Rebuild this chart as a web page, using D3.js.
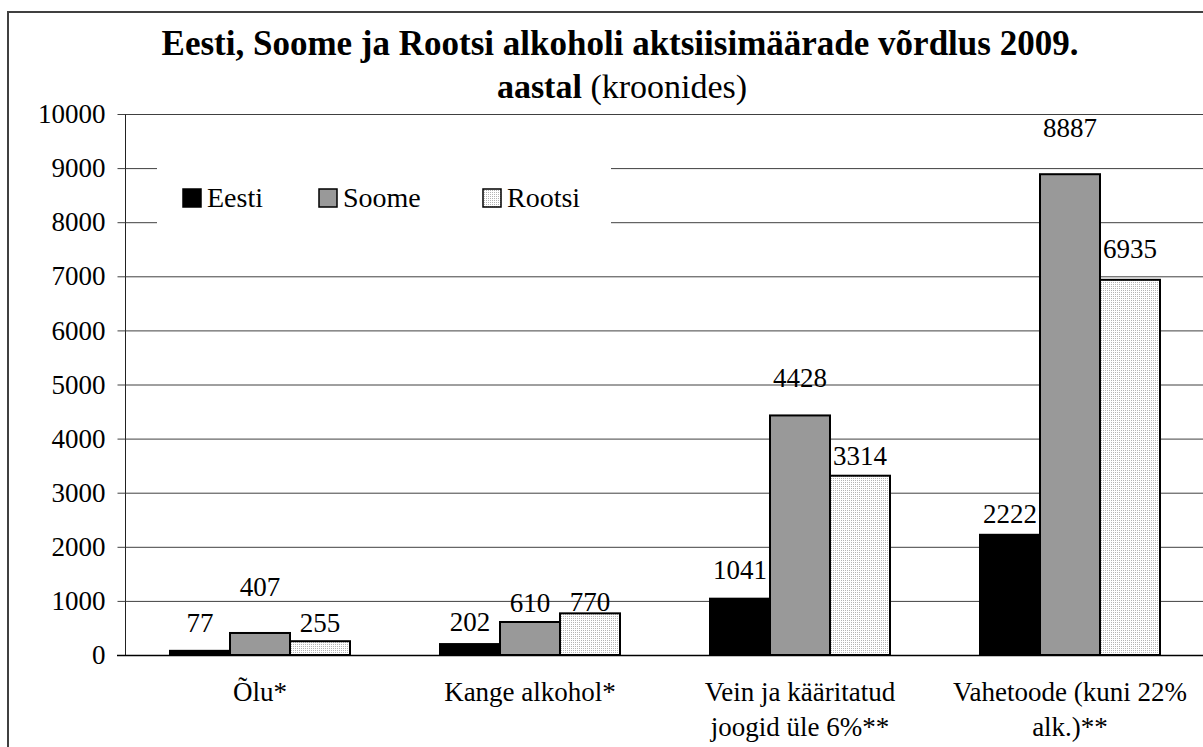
<!DOCTYPE html>
<html>
<head>
<meta charset="utf-8">
<script src="https://cdn.jsdelivr.net/npm/d3@7"></script>
<style>
  body { margin: 0; background: #fff; }
  svg { display: block; }
  svg text { font-family: "Liberation Serif", "Times New Roman", Times, "DejaVu Serif", serif; }
</style>
</head>
<body>
<svg id="chart" width="1203" height="747"></svg>
<script>
// categories and series
var categories = ["Õlu*", "Kange alkohol*", "Vein ja kääritatud joogid üle 6%**", "Vahetoode (kuni 22% alk.)**"];
var categoryLines = [["Õlu*"], ["Kange alkohol*"], ["Vein ja kääritatud", "joogid üle 6%**"], ["Vahetoode (kuni 22%", "alk.)**"]];
var seriesNames = ["Eesti", "Soome", "Rootsi"];
var eesti = [77, 202, 1041, 2222];
var soome = [407, 610, 4428, 8887];
var rootsi = [255, 770, 3314, 6935];
var yTicks = [0, 1000, 2000, 3000, 4000, 5000, 6000, 7000, 8000, 9000, 10000];

// value labels sit at uneven heights above the bars in the original (px above bar top)
var liftEesti = [19, 13, 20, 12];
var liftSoome = [37, 10, 28, 37];
var liftRootsi = [9, 2, 11, 22];

var svg = d3.select("#chart"),
    width = +svg.attr("width"),
    height = +svg.attr("height");

var margin = {left: 125, top: 114, right: -2, bottom: 92};
var plotBottom = height - margin.bottom;

// stipple for Rootsi
var defs = svg.append("defs");
var pat = defs.append("pattern")
    .attr("id", "stipple")
    .attr("patternUnits", "userSpaceOnUse")
    .attr("width", 2).attr("height", 2);
pat.append("rect").attr("width", 2).attr("height", 2).attr("fill", "#fff");
pat.append("rect").attr("width", 1).attr("height", 1).attr("fill", "#b4b4b4");

var fills = {"Eesti": "#000", "Soome": "#999999", "Rootsi": "url(#stipple)"};

var table = categories.map(function (c, i) {
    return {cat: c, values: [
        {s: "Eesti", v: eesti[i], lift: liftEesti[i]},
        {s: "Soome", v: soome[i], lift: liftSoome[i]},
        {s: "Rootsi", v: rootsi[i], lift: liftRootsi[i]}
    ]};
});

var x0 = d3.scaleBand().domain(categories).range([margin.left, width - margin.right]);
var bw = x0.bandwidth();
var x1 = d3.scaleBand().domain(seriesNames).range([bw / 6, bw * 5 / 6]);
var y = d3.scaleLinear().domain([0, 10000]).range([plotBottom, margin.top]);

// outer frame
svg.append("rect")
    .attr("x", 8).attr("y", 12)
    .attr("width", width).attr("height", height)
    .attr("fill", "none")
    .attr("stroke", "#404040")
    .attr("stroke-width", 2);

// title
var title = svg.append("g").attr("text-anchor", "middle");
title.append("text")
    .attr("x", 620).attr("y", 55)
    .attr("font-size", 35).attr("font-weight", "bold")
    .text("Eesti, Soome ja Rootsi alkoholi aktsiisimäärade võrdlus 2009.");
var t2 = title.append("text")
    .attr("x", 622).attr("y", 98)
    .attr("font-size", 34);
t2.append("tspan").attr("font-weight", "bold").text("aastal");
t2.append("tspan").text(" (kroonides)");

// grid
svg.append("g")
    .selectAll("line")
    .data(yTicks.filter(function (d) { return d > 0; }))
    .enter().append("line")
    .attr("x1", margin.left).attr("x2", width)
    .attr("y1", function (d) { return y(d) + 0.5; })
    .attr("y2", function (d) { return y(d) + 0.5; })
    .attr("stroke", "#404040").attr("stroke-width", 1);

// y axis
var yAxis = svg.append("g")
    .attr("transform", "translate(" + (margin.left + 0.5) + ",0)")
    .call(d3.axisLeft(y).tickValues(yTicks).tickSize(8).tickPadding(12).tickFormat(d3.format("d")));
yAxis.select(".domain").attr("stroke", "#222").attr("d", "M0," + margin.top + "V" + plotBottom);
yAxis.selectAll(".tick line").attr("stroke", "#404040");
yAxis.selectAll(".tick text")
    .attr("font-size", 27).attr("fill", "#000");

// legend box (covers grid)
var legend = svg.append("g");
legend.append("rect")
    .attr("x", 157).attr("y", 156)
    .attr("width", 454).attr("height", 80)
    .attr("fill", "#fff");
var legendX = [183, 319, 483];
seriesNames.forEach(function (s, i) {
    legend.append("rect")
        .attr("x", legendX[i]).attr("y", 189)
        .attr("width", 18).attr("height", 18)
        .attr("fill", fills[s]).attr("stroke", "#000").attr("stroke-width", 1.5);
    legend.append("text")
        .attr("x", legendX[i] + 24).attr("y", 207)
        .attr("font-size", 28)
        .text(s);
});

// bars
var groups = svg.append("g")
    .selectAll("g")
    .data(table)
    .enter().append("g")
    .attr("transform", function (d) { return "translate(" + x0(d.cat) + ",0)"; });

groups.selectAll("rect")
    .data(function (d) { return d.values; })
    .enter().append("rect")
    .attr("x", function (d) { return x1(d.s); })
    .attr("y", function (d) { return y(d.v); })
    .attr("width", x1.bandwidth())
    .attr("height", function (d) { return y(0) - y(d.v); })
    .attr("fill", function (d) { return fills[d.s]; })
    .attr("stroke", "#000")
    .attr("stroke-width", 2);

groups.selectAll("text.val")
    .data(function (d) { return d.values; })
    .enter().append("text")
    .attr("class", "val")
    .attr("x", function (d) { return x1(d.s) + x1.bandwidth() / 2; })
    .attr("y", function (d) { return y(d.v) - d.lift; })
    .attr("text-anchor", "middle")
    .attr("font-size", 27)
    .text(function (d) { return d.v; });

// x axis line
svg.append("line")
    .attr("x1", margin.left - 8).attr("x2", width)
    .attr("y1", plotBottom + 0.5).attr("y2", plotBottom + 0.5)
    .attr("stroke", "#000").attr("stroke-width", 1.5);

// category labels
var catLab = svg.append("g")
    .selectAll("text")
    .data(categories)
    .enter().append("text")
    .attr("text-anchor", "middle")
    .attr("font-size", 27)
    .attr("x", function (d) { return x0(d) + bw / 2; })
    .attr("y", 701);
catLab.each(function (d, i) {
    var el = d3.select(this);
    categoryLines[i].forEach(function (line, j) {
        el.append("tspan")
            .attr("x", x0(d) + bw / 2)
            .attr("dy", j === 0 ? 0 : 35)
            .text(line);
    });
});
</script>
</body>
</html>
